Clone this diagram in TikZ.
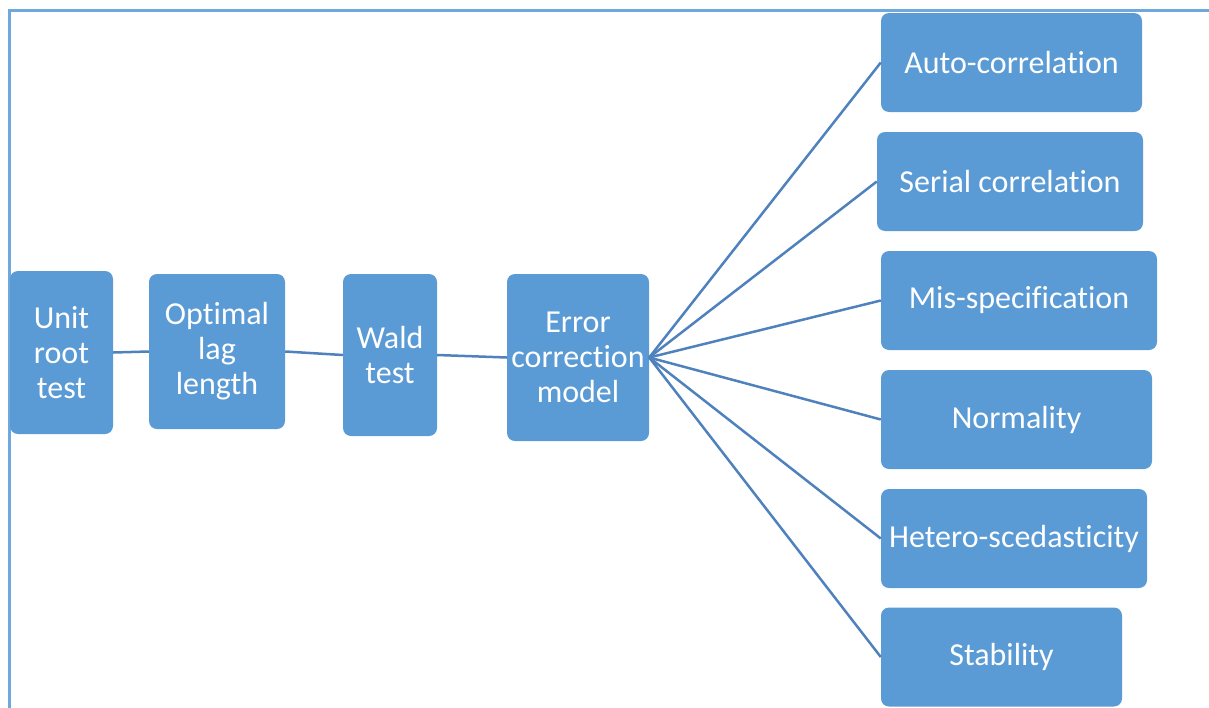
\documentclass[tikz,border=0pt]{standalone}
\usepackage{fontspec}
\setmainfont{Carlito}[Ligatures=NoCommon]
\usetikzlibrary{positioning}
\definecolor{boxblue}{HTML}{5B9BD5}
\definecolor{lineblue}{HTML}{4F81BD}
\definecolor{frameblue}{HTML}{6FA8DC}

\tikzset{
    stage/.style={fill=boxblue, rounded corners=8pt, text=white, align=center,
        inner sep=0pt, font=\fontsize{32}{35}\selectfont},
    check/.style={stage, minimum height=99pt},
    link/.style={draw=lineblue, line width=2.5pt}
}

\begin{document}
\begin{tikzpicture}[x=1pt, y=-1pt]

        \useasboundingbox (0,0) rectangle (1209,707);
        \draw[frameblue, line width=3pt] (9,708) -- (9,10) -- (1210,10);

        % main chain
        \node[stage, minimum width=103pt, minimum height=163pt] (unit) at (61.5,352.5) {Unit\\root\\test};
        \node[stage, minimum width=136pt, minimum height=155pt] (optlag) at (217,351.5) {Optimal\\lag\\length};
        \node[stage, minimum width=94pt, minimum height=162pt] (wald) at (390,355) {Wald\\test};
        \node[stage, minimum width=142pt, minimum height=167pt] (ecm) at (578,357.5) {Error\\correction\\model};

        % diagnostic tests
        \node[check, minimum width=261pt] (autocorr) at (1011.5,62.5) {Auto-correlation};
        \node[check, minimum width=266pt] (serial) at (1010,181.5) {Serial correlation};
        \node[check, minimum width=276pt] (misspec) at (1019,300.5) {Mis-specification};
        \node[check, minimum width=271pt] (normal) at (1016.5,419.5) {Normality};
        \node[check, minimum width=266pt] (hetero) at (1014,538.5) {Hetero-scedasticity};
        \node[check, minimum width=241pt] (stable) at (1001.5,657) {Stability};

        \draw[link] (unit.east) -- (optlag.west);
        \draw[link] (optlag.east) -- (wald.west);
        \draw[link] (wald.east) -- (ecm.west);
        \foreach \t in {autocorr, serial, misspec, normal, hetero, stable}
            \draw[link] (ecm.east) -- (\t.west);

\end{tikzpicture}
\end{document}
